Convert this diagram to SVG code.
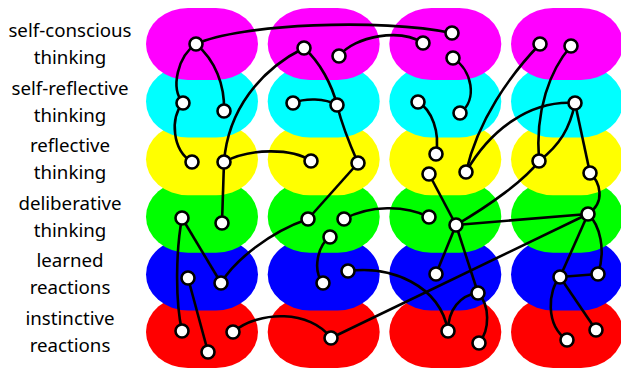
<svg xmlns="http://www.w3.org/2000/svg" width="621" height="369" viewBox="0 0 621 369">
<style>
.lbl{font-family:"Noto Sans","Open Sans","DejaVu Sans",sans-serif;font-size:18.7px;fill:#000;text-anchor:middle}
.e{fill:none;stroke:#000;stroke-width:2.6}
.n{fill:#fff;stroke:#000;stroke-width:2.6}
</style>
<defs>
<rect id="blob" width="112" height="72" rx="42" ry="36"/>
</defs>
<g id="labels">
<text class="lbl" x="70" y="37">self-conscious</text><text class="lbl" x="70" y="64">thinking</text>
<text class="lbl" x="70" y="94.6">self-reflective</text><text class="lbl" x="70" y="121.6">thinking</text>
<text class="lbl" x="70" y="152.2">reflective</text><text class="lbl" x="70" y="179.2">thinking</text>
<text class="lbl" x="70" y="209.8">deliberative</text><text class="lbl" x="70" y="236.8">thinking</text>
<text class="lbl" x="70" y="267.4">learned</text><text class="lbl" x="70" y="294.4">reactions</text>
<text class="lbl" x="70" y="325">instinctive</text><text class="lbl" x="70" y="352">reactions</text>
</g>
<g id="bands">
<g id="row-instinctive" fill="#ff0000">
<use href="#blob" x="146" y="296"/><use href="#blob" x="267.7" y="296"/><use href="#blob" x="389.3" y="296"/><use href="#blob" x="511" y="296"/>
</g>
<g id="row-learned" fill="#0000ff">
<use href="#blob" x="146" y="238.4"/><use href="#blob" x="267.7" y="238.4"/><use href="#blob" x="389.3" y="238.4"/><use href="#blob" x="511" y="238.4"/>
</g>
<g id="row-deliberative" fill="#00ff00">
<use href="#blob" x="146" y="180.8"/><use href="#blob" x="267.7" y="180.8"/><use href="#blob" x="389.3" y="180.8"/><use href="#blob" x="511" y="180.8"/>
</g>
<g id="row-reflective" fill="#ffff00">
<use href="#blob" x="146" y="123.2"/><use href="#blob" x="267.7" y="123.2"/><use href="#blob" x="389.3" y="123.2"/><use href="#blob" x="511" y="123.2"/>
</g>
<g id="row-selfreflective" fill="#00ffff">
<use href="#blob" x="146" y="65.6"/><use href="#blob" x="267.7" y="65.6"/><use href="#blob" x="389.3" y="65.6"/><use href="#blob" x="511" y="65.6"/>
</g>
<g id="row-selfconscious" fill="#ff00ff">
<use href="#blob" x="146" y="8"/><use href="#blob" x="267.7" y="8"/><use href="#blob" x="389.3" y="8"/><use href="#blob" x="511" y="8"/>
</g>
</g>
<g id="connectors" class="edges">
<path class="e" d="M196,44 C240,24 380,18 452,33"/>
<path class="e" d="M339,56 C355,36 400,28 423,43"/>
<path class="e" d="M196,44 C178,56 170,88 183,103"/>
<path class="e" d="M196,44 C215,60 225,85 224,111"/>
<path class="e" d="M183,103 C170,118 172,150 192,162"/>
<path class="e" d="M304,48 C260,70 228,110 224,162"/>
<path class="e" d="M224,162 L222,223"/>
<path class="e" d="M224,162 C250,148 292,148 311,161"/>
<path class="e" d="M293,103 C305,98 325,98 337,105"/>
<path class="e" d="M304,48 C320,62 332,85 337,105"/>
<path class="e" d="M337,105 C342,125 350,145 358,163"/>
<path class="e" d="M358,163 L308,219"/>
<path class="e" d="M453,58 C472,70 478,100 460,113"/>
<path class="e" d="M418,102 C432,110 440,132 436,154"/>
<path class="e" d="M540,44 C510,75 478,120 466,172"/>
<path class="e" d="M575,103 C530,100 490,130 466,172"/>
<path class="e" d="M571,46 C550,70 535,110 539,161"/>
<path class="e" d="M575,103 C570,128 560,145 539,161"/>
<path class="e" d="M575,103 L590,173"/>
<path class="e" d="M590,173 C600,182 606,202 588,214"/>
<path class="e" d="M344,219 C370,205 405,205 429,217"/>
<path class="e" d="M429,174 L456,225"/>
<path class="e" d="M539,161 C525,180 490,205 456,225"/>
<path class="e" d="M456,225 L588,214"/>
<path class="e" d="M456,225 L436,274"/>
<path class="e" d="M456,225 L478,293"/>
<path class="e" d="M478,293 C460,295 448,310 448,331"/>
<path class="e" d="M478,293 C490,305 490,330 479,343"/>
<path class="e" d="M348,271 C390,265 440,285 448,331"/>
<path class="e" d="M588,214 L331,338"/>
<path class="e" d="M588,214 L560,277"/>
<path class="e" d="M588,214 C600,225 606,250 598,274"/>
<path class="e" d="M560,277 L598,274"/>
<path class="e" d="M560,277 C548,290 545,325 567,340"/>
<path class="e" d="M560,277 L596,330"/>
<path class="e" d="M330,237 C318,245 312,270 323,283"/>
<path class="e" d="M308,219 C270,232 235,260 221,283"/>
<path class="e" d="M182,218 L221,283"/>
<path class="e" d="M182,218 C176,250 175,300 182,331"/>
<path class="e" d="M188,278 L208,352"/>
<path class="e" d="M233,332 C260,310 310,310 331,338"/>
</g>
<g id="nodes">
<circle id="nA" class="n" cx="196" cy="44" r="6.5"/>
<circle id="nB" class="n" cx="304" cy="48" r="6.5"/>
<circle id="nC" class="n" cx="339" cy="56" r="6.5"/>
<circle id="nD" class="n" cx="183" cy="103" r="6.5"/>
<circle id="nE" class="n" cx="224" cy="111" r="6.5"/>
<circle id="nF" class="n" cx="293" cy="103" r="6.5"/>
<circle id="nG" class="n" cx="337" cy="105" r="6.5"/>
<circle id="nH" class="n" cx="192" cy="162" r="6.5"/>
<circle id="nI" class="n" cx="224" cy="162" r="6.5"/>
<circle id="nJ" class="n" cx="311" cy="161" r="6.5"/>
<circle id="nK" class="n" cx="358" cy="163" r="6.5"/>
<circle id="nL" class="n" cx="452" cy="33" r="6.5"/>
<circle id="nM" class="n" cx="423" cy="43" r="6.5"/>
<circle id="nN" class="n" cx="453" cy="58" r="6.5"/>
<circle id="nO" class="n" cx="540" cy="44" r="6.5"/>
<circle id="nP" class="n" cx="571" cy="46" r="6.5"/>
<circle id="nQ" class="n" cx="418" cy="102" r="6.5"/>
<circle id="nR" class="n" cx="460" cy="113" r="6.5"/>
<circle id="nS" class="n" cx="575" cy="103" r="6.5"/>
<circle id="nT" class="n" cx="436" cy="154" r="6.5"/>
<circle id="nU" class="n" cx="429" cy="174" r="6.5"/>
<circle id="nV" class="n" cx="466" cy="172" r="6.5"/>
<circle id="nW" class="n" cx="539" cy="161" r="6.5"/>
<circle id="nX" class="n" cx="590" cy="173" r="6.5"/>
<circle id="na" class="n" cx="182" cy="218" r="6.5"/>
<circle id="nb" class="n" cx="222" cy="223" r="6.5"/>
<circle id="nc" class="n" cx="308" cy="219" r="6.5"/>
<circle id="nd" class="n" cx="344" cy="219" r="6.5"/>
<circle id="ne" class="n" cx="330" cy="237" r="6.5"/>
<circle id="nf" class="n" cx="188" cy="278" r="6.5"/>
<circle id="ng" class="n" cx="221" cy="283" r="6.5"/>
<circle id="nh" class="n" cx="323" cy="283" r="6.5"/>
<circle id="ni" class="n" cx="348" cy="271" r="6.5"/>
<circle id="nj" class="n" cx="182" cy="331" r="6.5"/>
<circle id="nk" class="n" cx="233" cy="332" r="6.5"/>
<circle id="nl" class="n" cx="208" cy="352" r="6.5"/>
<circle id="nm" class="n" cx="331" cy="338" r="6.5"/>
<circle id="nn" class="n" cx="429" cy="217" r="6.5"/>
<circle id="no" class="n" cx="456" cy="225" r="6.5"/>
<circle id="np" class="n" cx="588" cy="214" r="6.5"/>
<circle id="nq" class="n" cx="436" cy="274" r="6.5"/>
<circle id="nr" class="n" cx="478" cy="293" r="6.5"/>
<circle id="ns" class="n" cx="560" cy="277" r="6.5"/>
<circle id="nt" class="n" cx="598" cy="274" r="6.5"/>
<circle id="nu" class="n" cx="448" cy="331" r="6.5"/>
<circle id="nv" class="n" cx="479" cy="343" r="6.5"/>
<circle id="nw" class="n" cx="567" cy="340" r="6.5"/>
<circle id="nx" class="n" cx="596" cy="330" r="6.5"/>
</g>
</svg>
